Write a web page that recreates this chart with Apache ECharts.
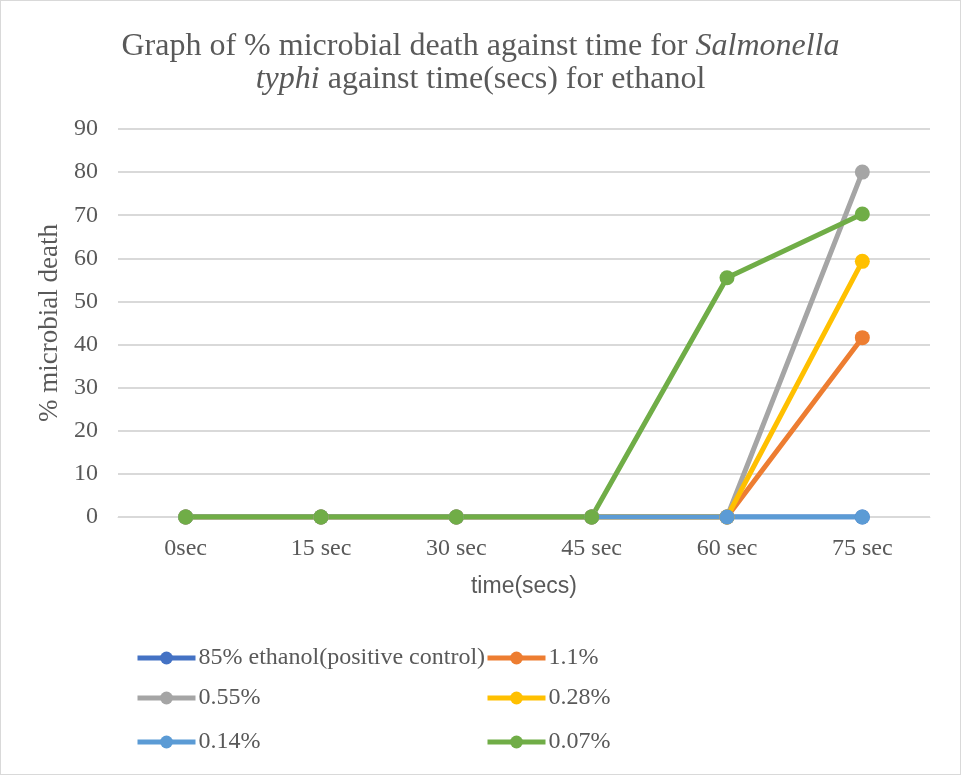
<!DOCTYPE html>
<html>
<head>
<meta charset="utf-8">
<script src="https://cdn.jsdelivr.net/npm/echarts@6/dist/echarts.min.js"></script>
<style>
  html, body { margin: 0; padding: 0; background: #fff; }
  #wrap { width: 961px; height: 775px; box-sizing: border-box; border: 1px solid #d9d9d9; }
  #main { width: 100%; height: 100%; }
</style>
</head>
<body>
<div id="wrap"><div id="main"></div></div>
<script>
var times = ["0sec", "15 sec", "30 sec", "45 sec", "60 sec", "75 sec"];
var seriesNames = ["85% ethanol(positive control)", "1.1%", "0.55%", "0.28%", "0.14%", "0.07%"];
var ethanol85 = [0, 0, 0, 0, 0, 0];
var pct1_1 = [0, 0, 0, 0, 0, 41.6];
var pct0_55 = [0, 0, 0, 0, 0, 80];
var pct0_28 = [0, 0, 0, 0, 0, 59.3];
var pct0_14 = [0, 0, 0, 0, 0, 0];
var pct0_07 = [0, 0, 0, 0, 55.5, 70.3];
var yTicks = [0, 10, 20, 30, 40, 50, 60, 70, 80, 90];

var colors = ["#4472C4", "#ED7D31", "#A5A5A5", "#FFC000", "#5B9BD5", "#70AD47"];
var values = [ethanol85, pct1_1, pct0_55, pct0_28, pct0_14, pct0_07];
var serif = "'Liberation Serif', 'Times New Roman', serif";
var grey = "#595959";

// legend laid out in two columns, one legend per entry
var legendPos = [
  [134, 645], [484, 645],
  [134, 685], [484, 685],
  [134, 729], [484, 729]
];

var myChart = echarts.init(document.getElementById("main"));
myChart.setOption({
  animation: false,
  color: colors,
  title: {
    left: "center",
    top: 24,
    text: "{n|Graph of % microbial death against time for }{i|Salmonella}\n{i|typhi}{n| against time(secs) for ethanol}",
    textStyle: {
      fontWeight: "normal",
      rich: {
        n: { fontFamily: serif, fontSize: 32, fontWeight: "normal", color: grey, lineHeight: 33 },
        i: { fontFamily: serif, fontSize: 32, fontWeight: "normal", color: grey, fontStyle: "italic", lineHeight: 33 }
      }
    }
  },
  grid: {
    left: 117,
    right: 30,
    top: 128,
    bottom: 257
  },
  legend: seriesNames.map(function (name, i) {
    return {
      data: [name],
      left: legendPos[i][0],
      top: legendPos[i][1],
      padding: 0,
      itemWidth: 58,
      itemHeight: 16,
      selectedMode: false,
      lineStyle: { width: 5 },
      textStyle: { fontFamily: serif, fontSize: 24, color: grey, padding: [0, 0, 0, -2] }
    };
  }),
  xAxis: {
    type: "category",
    data: times,
    boundaryGap: true,
    name: "time(secs)",
    nameLocation: "middle",
    nameGap: 58,
    nameTextStyle: { fontFamily: "'Liberation Sans', Arial, sans-serif", fontSize: 23, color: grey },
    axisLine: { lineStyle: { color: "#d9d9d9", width: 1 } },
    axisTick: { show: false },
    axisLabel: { fontFamily: serif, fontSize: 24, color: grey, margin: 20 }
  },
  yAxis: {
    type: "value",
    min: yTicks[0],
    max: yTicks[yTicks.length - 1],
    interval: 10,
    name: "% microbial death",
    nameLocation: "middle",
    nameGap: 44,
    nameTextStyle: { fontFamily: serif, fontSize: 27, color: grey },
    axisLine: { show: false },
    axisTick: { show: false },
    axisLabel: { fontFamily: serif, fontSize: 24, color: grey, margin: 20 },
    splitLine: { lineStyle: { color: "#d9d9d9", width: 2 } }
  },
  series: seriesNames.map(function (name, i) {
    return {
      name: name,
      type: "line",
      data: values[i],
      symbol: "circle",
      symbolSize: 15,
      lineStyle: { width: 5, color: colors[i] },
      itemStyle: { color: colors[i] }
    };
  })
});
window.onresize = function () { myChart.resize(); };
</script>
</body>
</html>
